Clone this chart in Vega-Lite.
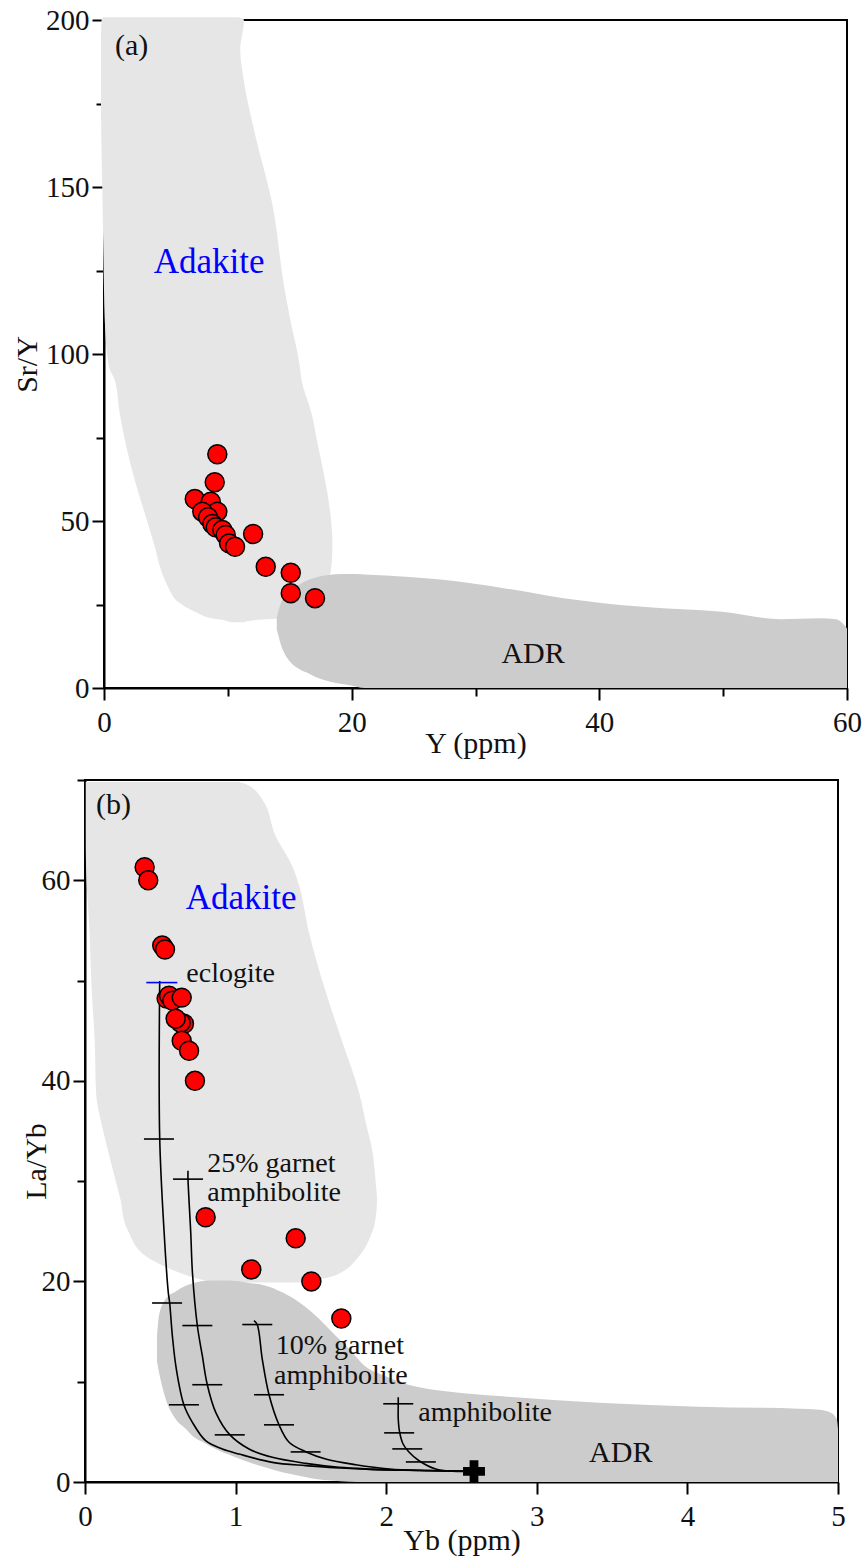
{
  "$schema": "https://vega.github.io/schema/vega-lite/v6.json",
  "padding": {"left": 11, "top": 5, "right": 5, "bottom": 5},
  "background": "#ffffff",
  "spacing": 6,
  "config": {
    "font": "Liberation Serif",
    "view": {"stroke": "#000000", "strokeWidth": 2},
    "axis": {
      "domainColor": "#000000",
      "domainWidth": 2,
      "tickColor": "#000000",
      "tickWidth": 2,
      "labelFont": "Liberation Serif",
      "labelFontSize": 29,
      "labelColor": "#111111",
      "titleFont": "Liberation Serif",
      "titleFontSize": 30,
      "titleFontWeight": "normal",
      "titleColor": "#111111",
      "grid": false,
      "labelFlush": false,
      "labelOverlap": false
    }
  },
  "datasets": {
    "adakiteA": [
      {"y": 19.7, "xl": 10.2, "xr": 11.3},
      {"y": 20.4, "xl": 9.5, "xr": 12.45},
      {"y": 20.9, "xl": 8.7, "xr": 14.07},
      {"y": 22.4, "xl": 7.6, "xr": 15.14},
      {"y": 25.8, "xl": 5.98, "xr": 16.8},
      {"y": 29.3, "xl": 5.3, "xr": 17.7},
      {"y": 32.3, "xl": 4.91, "xr": 18.1},
      {"y": 35.3, "xl": 4.6, "xr": 18.33},
      {"y": 42.3, "xl": 4.1, "xr": 18.45},
      {"y": 52.3, "xl": 3.29, "xr": 18.28},
      {"y": 62.3, "xl": 2.48, "xr": 17.85},
      {"y": 72.2, "xl": 1.8, "xr": 17.3},
      {"y": 82.2, "xl": 1.27, "xr": 16.76},
      {"y": 92.2, "xl": 0.865, "xr": 15.95},
      {"y": 96.2, "xl": 0.4, "xr": 15.82},
      {"y": 111, "xl": 0.05, "xr": 15.0},
      {"y": 119, "xl": 0.0, "xr": 14.6},
      {"y": 146, "xl": -0.12, "xr": 13.53},
      {"y": 166, "xl": -0.22, "xr": 12.18},
      {"y": 183, "xl": -0.25, "xr": 11.24},
      {"y": 191, "xl": -0.25, "xr": 11.0},
      {"y": 200, "xl": -0.2, "xr": 11.3},
      {"y": 200.8, "xl": -0.05, "xr": 10.9}
    ],
    "adrA": [
      {"x": 13.95, "lo": 17.5, "hi": 21.0},
      {"x": 14.07, "lo": 15.9, "hi": 22.8},
      {"x": 14.33, "lo": 12.4, "hi": 25.8},
      {"x": 14.6, "lo": 10.2, "hi": 27.5},
      {"x": 15.14, "lo": 7.4, "hi": 29.4},
      {"x": 15.8, "lo": 5.6, "hi": 31.0},
      {"x": 16.49, "lo": 4.4, "hi": 32.3},
      {"x": 17.03, "lo": 3.4, "hi": 33.0},
      {"x": 18.11, "lo": 2.0, "hi": 33.8},
      {"x": 19.32, "lo": 1.1, "hi": 34.1},
      {"x": 19.72, "lo": 0.9, "hi": 34.1},
      {"x": 21.07, "lo": 0, "hi": 34.0},
      {"x": 24.39, "lo": 0, "hi": 33.3},
      {"x": 27.57, "lo": 0, "hi": 32.3},
      {"x": 32.26, "lo": 0, "hi": 29.9},
      {"x": 37.11, "lo": 0, "hi": 26.9},
      {"x": 43.5, "lo": 0, "hi": 24.3},
      {"x": 49.9, "lo": 0, "hi": 22.8},
      {"x": 54.65, "lo": 0, "hi": 20.6},
      {"x": 57.84, "lo": 0, "hi": 20.9},
      {"x": 59.1, "lo": 0, "hi": 20.6},
      {"x": 59.74, "lo": 0, "hi": 19.0},
      {"x": 60, "lo": 0, "hi": 17.8}
    ],
    "samplesA": [
      {"Y": 9.15, "SrY": 70.0},
      {"Y": 8.94, "SrY": 61.6},
      {"Y": 7.33, "SrY": 56.6},
      {"Y": 8.62, "SrY": 55.8},
      {"Y": 9.15, "SrY": 52.8},
      {"Y": 7.94, "SrY": 52.8},
      {"Y": 8.4, "SrY": 51.1},
      {"Y": 8.75, "SrY": 49.1},
      {"Y": 9.02, "SrY": 48.1},
      {"Y": 9.56, "SrY": 47.3},
      {"Y": 9.83, "SrY": 45.8},
      {"Y": 10.1, "SrY": 43.3},
      {"Y": 10.58, "SrY": 42.3},
      {"Y": 12.04, "SrY": 46.1},
      {"Y": 13.06, "SrY": 36.3},
      {"Y": 15.08, "SrY": 34.5},
      {"Y": 15.08, "SrY": 28.4},
      {"Y": 17.04, "SrY": 26.9}
    ],
    "labelsA": [
      {"x": 0.89, "y": 189.6, "text": "(a)", "kind": "panel"},
      {"x": 4.02, "y": 124.3, "text": "Adakite", "kind": "field"},
      {"x": 32.09, "y": 7.5, "text": "ADR", "kind": "panel"}
    ],
    "adakiteB": [
      {"y": 19.9, "xl": 0.85, "xr": 1.421},
      {"y": 20.5, "xl": 0.7, "xr": 1.64},
      {"y": 20.9, "xl": 0.624, "xr": 1.7},
      {"y": 22.5, "xl": 0.405, "xr": 1.819},
      {"y": 24.9, "xl": 0.29, "xr": 1.906},
      {"y": 25.5, "xl": 0.272, "xr": 1.92},
      {"y": 28.2, "xl": 0.235, "xr": 1.939},
      {"y": 29.9, "xl": 0.206, "xr": 1.93},
      {"y": 33.2, "xl": 0.15, "xr": 1.906},
      {"y": 35.5, "xl": 0.113, "xr": 1.87},
      {"y": 38.9, "xl": 0.073, "xr": 1.819},
      {"y": 43.9, "xl": 0.065, "xr": 1.708},
      {"y": 48.9, "xl": 0.045, "xr": 1.598},
      {"y": 54.8, "xl": 0.03, "xr": 1.487},
      {"y": 59.5, "xl": 0.012, "xr": 1.421},
      {"y": 61.4, "xl": 0.007, "xr": 1.377},
      {"y": 64.4, "xl": 0.005, "xr": 1.266},
      {"y": 68.1, "xl": 0.005, "xr": 1.175},
      {"y": 69.6, "xl": 0.005, "xr": 1.067},
      {"y": 69.8, "xl": 0.005, "xr": 1.02}
    ],
    "adrB": [
      {"x": 0.478, "lo": 12.0, "hi": 14.5},
      {"x": 0.491, "lo": 10.97, "hi": 16.58},
      {"x": 0.536, "lo": 8.28, "hi": 18.25},
      {"x": 0.602, "lo": 6.28, "hi": 19.0},
      {"x": 0.669, "lo": 5.3, "hi": 19.57},
      {"x": 0.712, "lo": 4.62, "hi": 19.8},
      {"x": 0.801, "lo": 3.85, "hi": 20.07},
      {"x": 0.868, "lo": 3.29, "hi": 20.1},
      {"x": 0.978, "lo": 2.6, "hi": 20.07},
      {"x": 1.089, "lo": 1.96, "hi": 19.85},
      {"x": 1.2, "lo": 1.45, "hi": 19.57},
      {"x": 1.31, "lo": 0.97, "hi": 18.91},
      {"x": 1.421, "lo": 0.62, "hi": 17.92},
      {"x": 1.532, "lo": 0.3, "hi": 16.58},
      {"x": 1.64, "lo": 0.15, "hi": 14.96},
      {"x": 1.753, "lo": 0.03, "hi": 13.26},
      {"x": 1.864, "lo": 0, "hi": 11.5},
      {"x": 1.972, "lo": 0, "hi": 10.7},
      {"x": 2.105, "lo": 0, "hi": 9.9},
      {"x": 2.437, "lo": 0, "hi": 8.97},
      {"x": 2.749, "lo": 0, "hi": 8.57},
      {"x": 3.413, "lo": 0, "hi": 7.9},
      {"x": 4.077, "lo": 0, "hi": 7.5},
      {"x": 4.741, "lo": 0, "hi": 7.3},
      {"x": 4.874, "lo": 0, "hi": 7.2},
      {"x": 4.953, "lo": 0, "hi": 6.9},
      {"x": 4.993, "lo": 0, "hi": 6.2},
      {"x": 5.0, "lo": 0, "hi": 5.3}
    ],
    "meltCurves": [
      {"curve": "eclogite", "seq": 1, "Yb": 0.496, "LaYb": 49.95},
      {"curve": "eclogite", "seq": 2, "Yb": 0.496, "LaYb": 34.3},
      {"curve": "eclogite", "seq": 3, "Yb": 0.525, "LaYb": 25.0},
      {"curve": "eclogite", "seq": 4, "Yb": 0.553, "LaYb": 18.9},
      {"curve": "eclogite", "seq": 5, "Yb": 0.562, "LaYb": 17.9},
      {"curve": "eclogite", "seq": 6, "Yb": 0.58, "LaYb": 14.6},
      {"curve": "eclogite", "seq": 7, "Yb": 0.606, "LaYb": 11.3},
      {"curve": "eclogite", "seq": 8, "Yb": 0.657, "LaYb": 7.68},
      {"curve": "eclogite", "seq": 9, "Yb": 0.713, "LaYb": 5.95},
      {"curve": "eclogite", "seq": 10, "Yb": 0.801, "LaYb": 4.12},
      {"curve": "eclogite", "seq": 11, "Yb": 0.912, "LaYb": 3.29},
      {"curve": "eclogite", "seq": 12, "Yb": 1.023, "LaYb": 2.79},
      {"curve": "eclogite", "seq": 13, "Yb": 1.244, "LaYb": 1.96},
      {"curve": "eclogite", "seq": 14, "Yb": 1.465, "LaYb": 1.63},
      {"curve": "eclogite", "seq": 15, "Yb": 1.687, "LaYb": 1.4},
      {"curve": "eclogite", "seq": 16, "Yb": 1.908, "LaYb": 1.23},
      {"curve": "eclogite", "seq": 17, "Yb": 2.218, "LaYb": 1.15},
      {"curve": "eclogite", "seq": 18, "Yb": 2.583, "LaYb": 1.07},
      {"curve": "grt25", "seq": 1, "Yb": 0.684, "LaYb": 31.04},
      {"curve": "grt25", "seq": 2, "Yb": 0.684, "LaYb": 30.2},
      {"curve": "grt25", "seq": 3, "Yb": 0.702, "LaYb": 24.9},
      {"curve": "grt25", "seq": 4, "Yb": 0.714, "LaYb": 20.74},
      {"curve": "grt25", "seq": 5, "Yb": 0.746, "LaYb": 15.58},
      {"curve": "grt25", "seq": 6, "Yb": 0.779, "LaYb": 12.59},
      {"curve": "grt25", "seq": 7, "Yb": 0.812, "LaYb": 9.7},
      {"curve": "grt25", "seq": 8, "Yb": 0.868, "LaYb": 6.95},
      {"curve": "grt25", "seq": 9, "Yb": 0.961, "LaYb": 4.72},
      {"curve": "grt25", "seq": 10, "Yb": 1.089, "LaYb": 3.29},
      {"curve": "grt25", "seq": 11, "Yb": 1.244, "LaYb": 2.46},
      {"curve": "grt25", "seq": 12, "Yb": 1.465, "LaYb": 1.86},
      {"curve": "grt25", "seq": 13, "Yb": 1.687, "LaYb": 1.47},
      {"curve": "grt25", "seq": 14, "Yb": 1.908, "LaYb": 1.3},
      {"curve": "grt25", "seq": 15, "Yb": 2.218, "LaYb": 1.15},
      {"curve": "grt25", "seq": 16, "Yb": 2.583, "LaYb": 1.07},
      {"curve": "grt10", "seq": 1, "Yb": 1.122, "LaYb": 16.08},
      {"curve": "grt10", "seq": 2, "Yb": 1.144, "LaYb": 15.68},
      {"curve": "grt10", "seq": 3, "Yb": 1.177, "LaYb": 12.26},
      {"curve": "grt10", "seq": 4, "Yb": 1.222, "LaYb": 8.7},
      {"curve": "grt10", "seq": 5, "Yb": 1.288, "LaYb": 5.71},
      {"curve": "grt10", "seq": 6, "Yb": 1.355, "LaYb": 3.96},
      {"curve": "grt10", "seq": 7, "Yb": 1.465, "LaYb": 3.02},
      {"curve": "grt10", "seq": 8, "Yb": 1.598, "LaYb": 2.29},
      {"curve": "grt10", "seq": 9, "Yb": 1.798, "LaYb": 1.72},
      {"curve": "grt10", "seq": 10, "Yb": 2.019, "LaYb": 1.3},
      {"curve": "grt10", "seq": 11, "Yb": 2.284, "LaYb": 1.15},
      {"curve": "grt10", "seq": 12, "Yb": 2.583, "LaYb": 1.07},
      {"curve": "amph", "seq": 1, "Yb": 2.08, "LaYb": 8.44},
      {"curve": "amph", "seq": 2, "Yb": 2.08, "LaYb": 7.78},
      {"curve": "amph", "seq": 3, "Yb": 2.08, "LaYb": 6.28},
      {"curve": "amph", "seq": 4, "Yb": 2.09, "LaYb": 4.89},
      {"curve": "amph", "seq": 5, "Yb": 2.112, "LaYb": 3.79},
      {"curve": "amph", "seq": 6, "Yb": 2.151, "LaYb": 2.99},
      {"curve": "amph", "seq": 7, "Yb": 2.218, "LaYb": 2.12},
      {"curve": "amph", "seq": 8, "Yb": 2.329, "LaYb": 1.3},
      {"curve": "amph", "seq": 9, "Yb": 2.439, "LaYb": 1.08},
      {"curve": "amph", "seq": 10, "Yb": 2.583, "LaYb": 1.07}
    ],
    "meltSteps": [
      {"curve": "eclogite", "Yb": 0.51, "LaYb": 49.8, "start": true},
      {"curve": "eclogite", "Yb": 0.491, "LaYb": 34.2, "start": false},
      {"curve": "eclogite", "Yb": 0.545, "LaYb": 17.85, "start": false},
      {"curve": "eclogite", "Yb": 0.657, "LaYb": 7.7, "start": false},
      {"curve": "grt25", "Yb": 0.684, "LaYb": 30.2, "start": false},
      {"curve": "grt25", "Yb": 0.746, "LaYb": 15.6, "start": false},
      {"curve": "grt25", "Yb": 0.812, "LaYb": 9.7, "start": false},
      {"curve": "grt25", "Yb": 0.961, "LaYb": 4.7, "start": false},
      {"curve": "grt10", "Yb": 1.144, "LaYb": 15.7, "start": false},
      {"curve": "grt10", "Yb": 1.222, "LaYb": 8.7, "start": false},
      {"curve": "grt10", "Yb": 1.288, "LaYb": 5.7, "start": false},
      {"curve": "grt10", "Yb": 1.465, "LaYb": 3.0, "start": false},
      {"curve": "amph", "Yb": 2.08, "LaYb": 7.8, "start": false},
      {"curve": "amph", "Yb": 2.086, "LaYb": 4.9, "start": false},
      {"curve": "amph", "Yb": 2.14, "LaYb": 3.3, "start": false},
      {"curve": "amph", "Yb": 2.23, "LaYb": 2.0, "start": false}
    ],
    "source": [
      {"Yb": 2.583, "LaYb": 1.07}
    ],
    "samplesB": [
      {"Yb": 0.396, "LaYb": 61.3},
      {"Yb": 0.42, "LaYb": 60.0},
      {"Yb": 0.513, "LaYb": 53.5},
      {"Yb": 0.531, "LaYb": 53.1},
      {"Yb": 0.542, "LaYb": 48.2},
      {"Yb": 0.558, "LaYb": 48.5},
      {"Yb": 0.58, "LaYb": 48.0},
      {"Yb": 0.642, "LaYb": 48.3},
      {"Yb": 0.657, "LaYb": 45.7},
      {"Yb": 0.635, "LaYb": 45.8},
      {"Yb": 0.602, "LaYb": 46.2},
      {"Yb": 0.642, "LaYb": 44.0},
      {"Yb": 0.691, "LaYb": 43.0},
      {"Yb": 0.73, "LaYb": 40.0},
      {"Yb": 0.801, "LaYb": 26.4},
      {"Yb": 1.399, "LaYb": 24.3},
      {"Yb": 1.104, "LaYb": 21.2},
      {"Yb": 1.503, "LaYb": 20.0},
      {"Yb": 1.702, "LaYb": 16.3}
    ],
    "labelsB": [
      {"x": 0.073, "y": 66.6, "text": "(b)", "kind": "panel"},
      {"x": 0.669, "y": 57.1, "text": "Adakite", "kind": "field"},
      {"x": 3.347, "y": 1.99, "text": "ADR", "kind": "panel"},
      {"x": 0.673, "y": 49.85, "text": "eclogite", "kind": "source"},
      {"x": 0.812, "y": 30.94, "text": "25% garnet", "kind": "source"},
      {"x": 0.812, "y": 28.05, "text": "amphibolite", "kind": "source"},
      {"x": 1.266, "y": 12.76, "text": "10% garnet", "kind": "source"},
      {"x": 1.255, "y": 9.77, "text": "amphibolite", "kind": "source"},
      {"x": 2.213, "y": 6.11, "text": "amphibolite", "kind": "source"}
    ]
  },
  "vconcat": [
    {
      "bounds": "flush",
      "spacing": 18,
      "hconcat": [
        {
          "width": 1,
          "height": 1,
          "view": {"stroke": null},
          "data": {"values": [{"gap": 0}]},
          "mark": {"type": "point", "size": 0, "strokeWidth": 0, "opacity": 0},
          "encoding": {}
        },
        {
          "width": 743,
          "height": 668,
          "layer": [
            {
              "data": {"name": "adakiteA"},
              "mark": {"type": "area", "orient": "horizontal", "interpolate": "monotone", "color": "#e6e6e6", "opacity": 1},
              "encoding": {
                "y": {
                  "field": "y", "type": "quantitative",
                  "scale": {"domain": [0, 200], "nice": false, "zero": false},
                  "axis": {
                    "title": "Sr/Y",
                    "values": [0, 25, 50, 75, 100, 125, 150, 175, 200],
                    "labelExpr": "datum.value % 50 === 0 ? datum.label : ''",
                    "tickSize": {"condition": {"test": "datum.value % 50 === 0", "value": 12}, "value": 8},
                    "labelPadding": 3,
                    "titleBaseline": "alphabetic",
                    "titleX": -68,
                    "titleY": 344
                  }
                },
                "x": {
                  "field": "xl", "type": "quantitative",
                  "scale": {"domain": [0, 60], "nice": false, "zero": false},
                  "axis": {
                    "title": "Y (ppm)",
                    "values": [0, 10, 20, 30, 40, 50, 60],
                    "labelExpr": "datum.value % 20 === 0 ? datum.label : ''",
                    "tickSize": {"condition": {"test": "datum.value % 20 === 0", "value": 12}, "value": 8},
                    "labelPadding": 8,
                    "titleBaseline": "alphabetic",
                    "titleY": 64
                  }
                },
                "x2": {"field": "xr"}
              }
            },
            {
              "data": {"name": "adrA"},
              "mark": {"type": "area", "orient": "vertical", "interpolate": "monotone", "color": "#cccccc", "opacity": 1},
              "encoding": {
                "x": {"field": "x", "type": "quantitative"},
                "y": {"field": "lo", "type": "quantitative"},
                "y2": {"field": "hi"}
              }
            },
            {
              "data": {"name": "samplesA"},
              "mark": {"type": "point", "shape": "circle", "filled": true, "fill": "#ff0000", "stroke": "#000000", "strokeWidth": 1.5, "size": 360, "opacity": 1},
              "encoding": {
                "x": {"field": "Y", "type": "quantitative"},
                "y": {"field": "SrY", "type": "quantitative"}
              }
            },
            {
              "data": {"name": "labelsA"},
              "transform": [{"filter": "datum.kind === 'panel'"}],
              "mark": {"type": "text", "align": "left", "baseline": "alphabetic", "font": "Liberation Serif", "fontSize": 30, "color": "#111111"},
              "encoding": {
                "x": {"field": "x", "type": "quantitative"},
                "y": {"field": "y", "type": "quantitative"},
                "text": {"field": "text"}
              }
            },
            {
              "data": {"name": "labelsA"},
              "transform": [{"filter": "datum.kind === 'field'"}],
              "mark": {"type": "text", "align": "left", "baseline": "alphabetic", "font": "Liberation Serif", "fontSize": 35, "color": "#0000ff"},
              "encoding": {
                "x": {"field": "x", "type": "quantitative"},
                "y": {"field": "y", "type": "quantitative"},
                "text": {"field": "text"}
              }
            }
          ]
        }
      ]
    },
    {
      "width": 753,
      "height": 702,
      "layer": [
        {
          "data": {"name": "adakiteB"},
          "mark": {"type": "area", "orient": "horizontal", "interpolate": "monotone", "color": "#e6e6e6", "opacity": 1},
          "encoding": {
            "y": {
              "field": "y", "type": "quantitative",
              "scale": {"domain": [0, 70], "nice": false, "zero": false},
              "axis": {
                "title": "La/Yb",
                "values": [0, 10, 20, 30, 40, 50, 60, 70],
                "labelExpr": "datum.value % 20 === 0 ? datum.label : ''",
                "tickSize": {"condition": {"test": "datum.value % 20 === 0", "value": 12}, "value": 8},
                "labelPadding": 3,
                "titleBaseline": "alphabetic",
                "titleX": -40,
                "titleY": 381
              }
            },
            "x": {
              "field": "xl", "type": "quantitative",
              "scale": {"domain": [0, 5], "nice": false, "zero": false},
              "axis": {
                "title": "Yb (ppm)",
                "format": "d",
                "values": [0, 0.5, 1, 1.5, 2, 2.5, 3, 3.5, 4, 4.5, 5],
                "labelExpr": "datum.value % 1 === 0 ? datum.label : ''",
                "tickSize": {"condition": {"test": "datum.value % 1 === 0", "value": 12}, "value": 8},
                "labelPadding": 8,
                "titleBaseline": "alphabetic",
                "titleY": 67
              }
            },
            "x2": {"field": "xr"}
          }
        },
        {
          "data": {"name": "adrB"},
          "mark": {"type": "area", "orient": "vertical", "interpolate": "monotone", "color": "#cccccc", "opacity": 1},
          "encoding": {
            "x": {"field": "x", "type": "quantitative"},
            "y": {"field": "lo", "type": "quantitative"},
            "y2": {"field": "hi"}
          }
        },
        {
          "data": {"name": "meltCurves"},
          "mark": {"type": "line", "interpolate": "catmull-rom", "color": "#000000", "strokeWidth": 1.6},
          "encoding": {
            "x": {"field": "Yb", "type": "quantitative"},
            "y": {"field": "LaYb", "type": "quantitative"},
            "detail": {"field": "curve"},
            "order": {"field": "seq", "type": "quantitative"}
          }
        },
        {
          "data": {"name": "meltSteps"},
          "transform": [{"filter": "!datum.start"}],
          "mark": {"type": "tick", "orient": "horizontal", "size": 30, "thickness": 1.6, "color": "#000000", "opacity": 1},
          "encoding": {
            "x": {"field": "Yb", "type": "quantitative"},
            "y": {"field": "LaYb", "type": "quantitative"}
          }
        },
        {
          "data": {"name": "meltSteps"},
          "transform": [{"filter": "datum.start"}],
          "mark": {"type": "tick", "orient": "horizontal", "size": 31, "thickness": 1.6, "color": "#0000ff", "opacity": 1},
          "encoding": {
            "x": {"field": "Yb", "type": "quantitative"},
            "y": {"field": "LaYb", "type": "quantitative"}
          }
        },
        {
          "data": {"name": "samplesB"},
          "mark": {"type": "point", "shape": "circle", "filled": true, "fill": "#ff0000", "stroke": "#000000", "strokeWidth": 1.5, "size": 360, "opacity": 1},
          "encoding": {
            "x": {"field": "Yb", "type": "quantitative"},
            "y": {"field": "LaYb", "type": "quantitative"}
          }
        },
        {
          "data": {"name": "source"},
          "mark": {"type": "point", "shape": "cross", "filled": true, "color": "#000000", "size": 480, "opacity": 1},
          "encoding": {
            "x": {"field": "Yb", "type": "quantitative"},
            "y": {"field": "LaYb", "type": "quantitative"}
          }
        },
        {
          "data": {"name": "labelsB"},
          "transform": [{"filter": "datum.kind === 'panel'"}],
          "mark": {"type": "text", "align": "left", "baseline": "alphabetic", "font": "Liberation Serif", "fontSize": 30, "color": "#111111"},
          "encoding": {
            "x": {"field": "x", "type": "quantitative"},
            "y": {"field": "y", "type": "quantitative"},
            "text": {"field": "text"}
          }
        },
        {
          "data": {"name": "labelsB"},
          "transform": [{"filter": "datum.kind === 'source'"}],
          "mark": {"type": "text", "align": "left", "baseline": "alphabetic", "font": "Liberation Serif", "fontSize": 28, "color": "#111111"},
          "encoding": {
            "x": {"field": "x", "type": "quantitative"},
            "y": {"field": "y", "type": "quantitative"},
            "text": {"field": "text"}
          }
        },
        {
          "data": {"name": "labelsB"},
          "transform": [{"filter": "datum.kind === 'field'"}],
          "mark": {"type": "text", "align": "left", "baseline": "alphabetic", "font": "Liberation Serif", "fontSize": 35, "color": "#0000ff"},
          "encoding": {
            "x": {"field": "x", "type": "quantitative"},
            "y": {"field": "y", "type": "quantitative"},
            "text": {"field": "text"}
          }
        }
      ]
    }
  ]
}
